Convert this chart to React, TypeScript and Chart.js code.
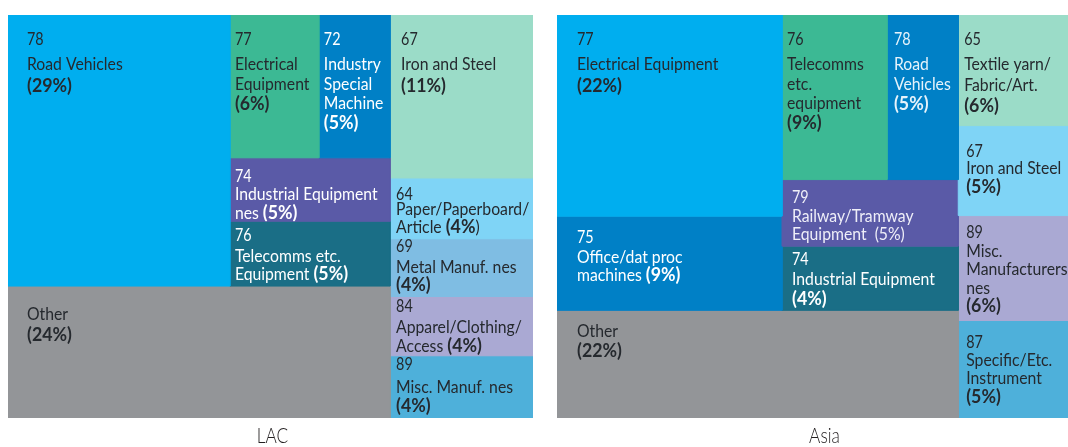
import React, { useEffect, useRef } from 'react';
import { Chart, registerables } from 'chart.js';

Chart.register(...registerables);

// ---------------- DATA ----------------
// LAC
const lacCodes = ['78', '77', '72', '74', '76', '', '67', '64', '69', '84', '89'];
const lacNames = [
  'Road Vehicles\n{P}',
  'Electrical\nEquipment\n{P}',
  'Industry\nSpecial\nMachine\n{P}',
  'Industrial Equipment\nnes {P}',
  'Telecomms etc.\nEquipment {P}',
  'Other\n{P}',
  'Iron and Steel\n{P}',
  'Paper/Paperboard/\nArticle {Q}',
  'Metal Manuf. nes\n{P}',
  'Apparel/Clothing/\nAccess {P}',
  'Misc. Manuf. nes\n{P}',
];
const lacPct = [29, 6, 5, 5, 5, 24, 11, 4, 4, 4, 4];
// share of the panel area each cell takes
const lacArea = [28.4, 6.0, 4.8, 4.8, 4.9, 23.8, 11.0, 4.1, 3.9, 4.0, 4.2];
// slice-and-dice grouping (row = side by side, col = stacked)
const lacTree: any = ['row', ['col', ['row', 0, ['col', ['row', 1, 2], 3, 4]], 5], ['col', 6, 7, 8, 9, 10]];

// Asia
const asiaCodes = ['77', '76', '78', '65', '67', '79', '75', '74', '', '89', '87'];
const asiaNames = [
  'Electrical Equipment\n{P}',
  'Telecomms\netc.\nequipment\n{P}',
  'Road\nVehicles\n{P}',
  'Textile yarn/\nFabric/Art.\n{P}',
  'Iron and Steel\n{P}',
  'Railway/Tramway\nEquipment  {p}',
  'Office/dat proc\nmachines {P}',
  'Industrial Equipment\n{P}',
  'Other\n{P}',
  'Misc.\nManufacturers\nnes\n{P}',
  'Specific/Etc.\nInstrument\n{P}',
];
const asiaPct = [22, 9, 5, 6, 5, 5, 9, 4, 22, 6, 5];
const asiaArea = [22.0, 8.4, 5.7, 5.9, 4.8, 5.7, 10.3, 5.5, 21.0, 5.6, 5.2];
const asiaTree: any = ['row', ['col', ['row', ['col', 0, 6], ['col', ['row', 1, 2], 5, 7]], 8], ['col', 3, 4, 9, 10]];

// ---------------- STYLES ----------------
const DARK = '#25292e';
const LIGHT = '#ffffff';
const lacColors = ['#00aeef', '#3cb994', '#0080c6', '#5a5aa7', '#1a6e86', '#939598', '#9bdcc8', '#7fd4f6', '#7fbde3', '#aaa9d3', '#4eb0da'];
const lacInk = [DARK, DARK, LIGHT, LIGHT, LIGHT, DARK, DARK, DARK, DARK, DARK, DARK];
// label inset: [dx, first baseline, gap after first line, line height]
const lacLabelBox = [
  [19, 30, 25, 22], [5, 30, 25, 20], [5, 30, 25, 19.5], [5, 24, 18, 19], [5, 20, 21, 18],
  [19, 34, 21, 21], [11, 30, 25, 22], [6, 22, 15, 18], [6, 13, 21, 18], [6, 15, 21, 19], [6, 14, 23, 19],
];
const asiaColors = ['#00aeef', '#3cb994', '#0080c6', '#9bdcc8', '#7fd4f6', '#5a5aa7', '#0080c6', '#1a6e86', '#939598', '#aaa9d3', '#4eb0da'];
const asiaInk = [DARK, DARK, '#e6f3fb', DARK, DARK, '#eeeef8', LIGHT, LIGHT, DARK, DARK, DARK];
const asiaLabelBox = [
  [20, 30, 25, 22], [5, 30, 25, 19.5], [7, 30, 25, 20], [6, 30, 25, 21], [8, 31, 17, 19],
  [10, 23, 19, 18], [20, 27, 20, 18], [10, 19, 20, 20], [20, 27, 20, 20], [8, 22, 19, 18.5], [8, 27, 18, 18.5],
];

const FONT = 'Lato, "Open Sans", sans-serif';

type Rect = { x0: number; y0: number; x1: number; y1: number };

function total(node: any, area: number[]): number {
  if (typeof node === 'number') return area[node];
  return node.slice(1).reduce((s: number, k: any) => s + total(k, area), 0);
}

function layout(node: any, area: number[], r: Rect, out: Rect[]) {
  if (typeof node === 'number') {
    out[node] = r;
    return;
  }
  const dir = node[0];
  const kids = node.slice(1);
  const sums = kids.map((k: any) => total(k, area));
  const tot = sums.reduce((a: number, b: number) => a + b, 0);
  const span = dir === 'row' ? r.x1 - r.x0 : r.y1 - r.y0;
  let pos = dir === 'row' ? r.x0 : r.y0;
  kids.forEach((k: any, i: number) => {
    const len = (span * sums[i]) / tot;
    const sub = dir === 'row'
      ? { x0: pos, x1: pos + len, y0: r.y0, y1: r.y1 }
      : { x0: r.x0, x1: r.x1, y0: pos, y1: pos + len };
    layout(k, area, sub, out);
    pos += len;
  });
}

type Seg = { text: string; kind: 'code' | 'reg' | 'bold' };

function buildLines(code: string, name: string, pct: number): Seg[][] {
  const lines: Seg[][] = [];
  if (code) lines.push([{ text: code, kind: 'code' }]);
  name.split('\n').forEach((ln) => {
    const segs: Seg[] = [];
    ln.split(/(\{[PpQ]\})/).forEach((part) => {
      if (!part) return;
      if (part === '{P}') segs.push({ text: `(${pct}%)`, kind: 'bold' });
      else if (part === '{p}') segs.push({ text: `(${pct}%)`, kind: 'reg' });
      else if (part === '{Q}') {
        segs.push({ text: `(${pct}%`, kind: 'bold' });
        segs.push({ text: ')', kind: 'reg' });
      } else segs.push({ text: part, kind: 'reg' });
    });
    lines.push(segs);
  });
  return lines;
}

const segStyle = {
  code: { font: `400 17.5px ${FONT}`, sx: 0.82 },
  reg: { font: `400 17.5px ${FONT}`, sx: 0.9 },
  bold: { font: `700 18.5px ${FONT}`, sx: 0.96 },
};

type PanelSpec = {
  title: string;
  codes: string[];
  names: string[];
  pct: number[];
  area: number[];
  tree: any;
  colors: string[];
  ink: string[];
  box: number[][];
  captionDx: number;
};

const lacSpec: PanelSpec = {
  title: 'LAC', codes: lacCodes, names: lacNames, pct: lacPct, area: lacArea, tree: lacTree,
  colors: lacColors, ink: lacInk, box: lacLabelBox, captionDx: 2,
};
const asiaSpec: PanelSpec = {
  title: 'Asia', codes: asiaCodes, names: asiaNames, pct: asiaPct, area: asiaArea, tree: asiaTree,
  colors: asiaColors, ink: asiaInk, box: asiaLabelBox, captionDx: 12,
};

function Panel({ spec, left, width, height }: { spec: PanelSpec; left: number; width: number; height: number }) {
  const ref = useRef<HTMLCanvasElement>(null);
  useEffect(() => {
    const cells: Rect[] = [];
    layout(spec.tree, spec.area, { x0: 0, y0: 0, x1: 100, y1: 100 }, cells);

    const datasets = cells.map((c, i) => ({
      label: spec.names[i].replace(/\n|\{[PpQ]\}/g, ' ').trim(),
      data: [
        { x: c.x0, y: c.y0 },
        { x: c.x1, y: c.y0 },
        { x: c.x1, y: c.y1 },
        { x: c.x0, y: c.y1 },
        { x: c.x0, y: c.y0 },
      ],
      showLine: true,
      fill: 'shape',
      backgroundColor: spec.colors[i],
      borderColor: spec.colors[i],
      borderWidth: 1,
      pointRadius: 0,
      pointHoverRadius: 0,
      tension: 0,
    }));

    const labelPlugin = {
      id: 'cellLabels',
      afterDatasetsDraw(chart: any) {
        const { ctx, chartArea } = chart;
        const xs = chart.scales.x;
        const ys = chart.scales.y;
        cells.forEach((c, i) => {
          const px0 = xs.getPixelForValue(c.x0);
          const px1 = xs.getPixelForValue(c.x1);
          const py0 = ys.getPixelForValue(c.y0);
          const py1 = ys.getPixelForValue(c.y1);
          const [dx, dy, gap, lh] = spec.box[i];
          const lines = buildLines(spec.codes[i], spec.names[i], spec.pct[i]);
          ctx.save();
          ctx.beginPath();
          ctx.rect(px0, py0, px1 - px0, py1 - py0);
          ctx.clip();
          ctx.fillStyle = spec.ink[i];
          ctx.textBaseline = 'alphabetic';
          ctx.textAlign = 'left';
          let by = py0 + dy;
          lines.forEach((segs, li) => {
            if (li === 1) by += gap;
            else if (li > 1) by += lh;
            let cx = px0 + dx;
            segs.forEach((s) => {
              const st = segStyle[s.kind];
              ctx.font = st.font;
              const w = ctx.measureText(s.text).width * st.sx;
              ctx.save();
              ctx.translate(cx, by);
              ctx.scale(st.sx, 1);
              ctx.fillText(s.text, 0, 0);
              ctx.restore();
              cx += w;
            });
          });
          ctx.restore();
        });
        // panel caption
        ctx.save();
        ctx.fillStyle = '#231f20';
        ctx.font = `300 21px ${FONT}`;
        ctx.textBaseline = 'alphabetic';
        ctx.textAlign = 'center';
        const mid = (chartArea.left + chartArea.right) / 2 + spec.captionDx;
        ctx.translate(mid, chartArea.bottom + 25);
        ctx.scale(0.82, 1);
        ctx.fillText(spec.title, 0, 0);
        ctx.restore();
      },
    };

    const chart = new Chart(ref.current as HTMLCanvasElement, {
      type: 'scatter',
      data: { datasets: datasets as any },
      options: {
        animation: false,
        responsive: false,
        devicePixelRatio: 1,
        events: [],
        layout: { padding: { left: 0, right: 0, top: 0, bottom: height - 403 } },
        plugins: { legend: { display: false }, tooltip: { enabled: false }, title: { display: false } },
        scales: {
          x: { type: 'linear', min: 0, max: 100, display: false },
          y: { type: 'linear', min: 0, max: 100, reverse: true, display: false },
        },
      } as any,
      plugins: [labelPlugin],
    });
    return () => chart.destroy();
  }, [spec, height]);

  return (
    <div style={{ position: 'absolute', left, top: 15, width, height }}>
      <canvas ref={ref} width={width} height={height} style={{ display: 'block', width, height }} />
    </div>
  );
}

export default function App() {
  return (
    <div
      style={{
        position: 'fixed',
        left: 0,
        top: 0,
        width: 1068,
        height: 447,
        overflow: 'hidden',
        background: '#ffffff',
      }}
    >
      <Panel spec={lacSpec} left={8} width={525} height={432} />
      <Panel spec={asiaSpec} left={557} width={511} height={432} />
    </div>
  );
}
